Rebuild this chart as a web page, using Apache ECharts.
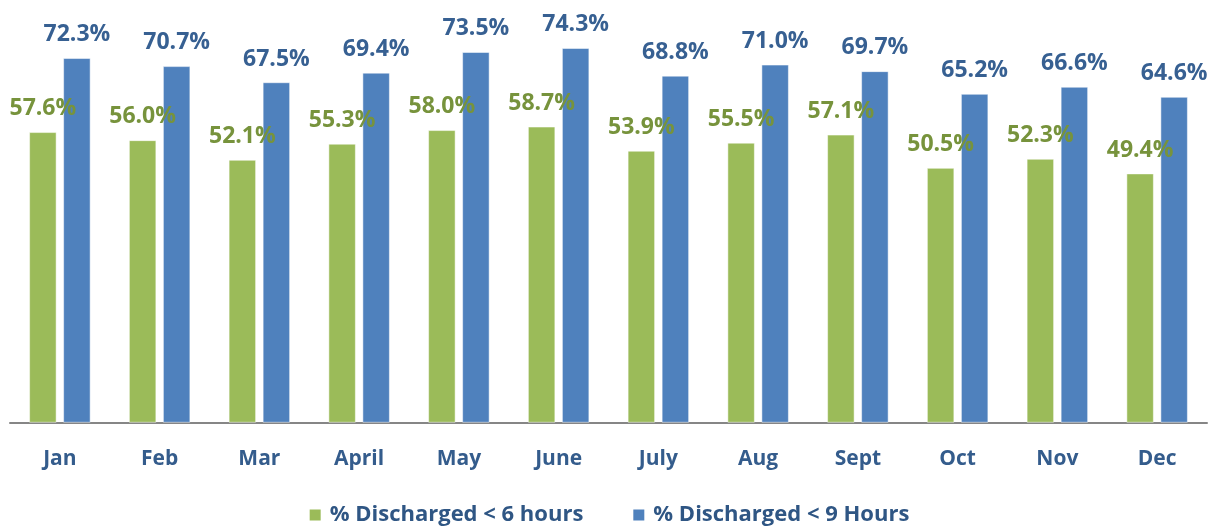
<!DOCTYPE html>
<html>
<head>
<meta charset="utf-8">
<script src="https://cdn.jsdelivr.net/npm/echarts@6/dist/echarts.min.js"></script>
<style>
  html, body { margin: 0; padding: 0; background: #fff; }
  #chart { width: 1217px; height: 526px; }
</style>
</head>
<body>
<div id="chart"></div>
<script>
var months = ['Jan', 'Feb', 'Mar', 'April', 'May', 'June', 'July', 'Aug', 'Sept', 'Oct', 'Nov', 'Dec'];
var under6 = [57.6, 56.0, 52.1, 55.3, 58.0, 58.7, 53.9, 55.5, 57.1, 50.5, 52.3, 49.4];
var under9 = [72.3, 70.7, 67.5, 69.4, 73.5, 74.3, 68.8, 71.0, 69.7, 65.2, 66.6, 64.6];

var font = '"Open Sans", sans-serif';
var myChart = echarts.init(document.getElementById('chart'));

function labelOf(color) {
    return {
        show: true,
        position: 'top',
        distance: 12,
        color: color,
        fontFamily: font,
        fontWeight: 'bold',
        fontSize: 23,
        formatter: function (p) { return p.value.toFixed(1) + '%'; }
    };
}

var option = {
    animation: false,
    grid: { left: 10, right: 10, top: 19.5, bottom: 103.5 },
    legend: {
        top: 499,
        left: 'center',
        itemWidth: 13,
        itemHeight: 13,
        itemGap: 48,
        icon: 'rect',
        textStyle: { color: '#2F5684', fontFamily: font, fontWeight: 'bold', fontSize: 22, padding: [0, 0, 0, 3] },
        data: ['% Discharged < 6 hours', '% Discharged < 9 Hours']
    },
    xAxis: {
        type: 'category',
        data: months,
        axisLine: { lineStyle: { color: '#868686', width: 2 } },
        axisTick: { show: false },
        axisLabel: { color: '#345C8C', fontFamily: font, fontWeight: 'bold', fontSize: 21, margin: 26 }
    },
    yAxis: {
        type: 'value',
        min: 0,
        max: 80,
        show: false,
        splitLine: { show: false }
    },
    series: [
        {
            name: '% Discharged < 6 hours',
            type: 'bar',
            data: under6,
            barWidth: 27,
            barGap: '26%',
            itemStyle: { color: '#9BBB59', borderColor: '#ffffff', borderWidth: 0.5 },
            label: labelOf('#77933C')
        },
        {
            name: '% Discharged < 9 Hours',
            type: 'bar',
            data: under9,
            barWidth: 27,
            itemStyle: { color: '#4F81BD', borderColor: '#ffffff', borderWidth: 0.5 },
            label: labelOf('#376092')
        }
    ]
};
myChart.setOption(option);
</script>
</body>
</html>
